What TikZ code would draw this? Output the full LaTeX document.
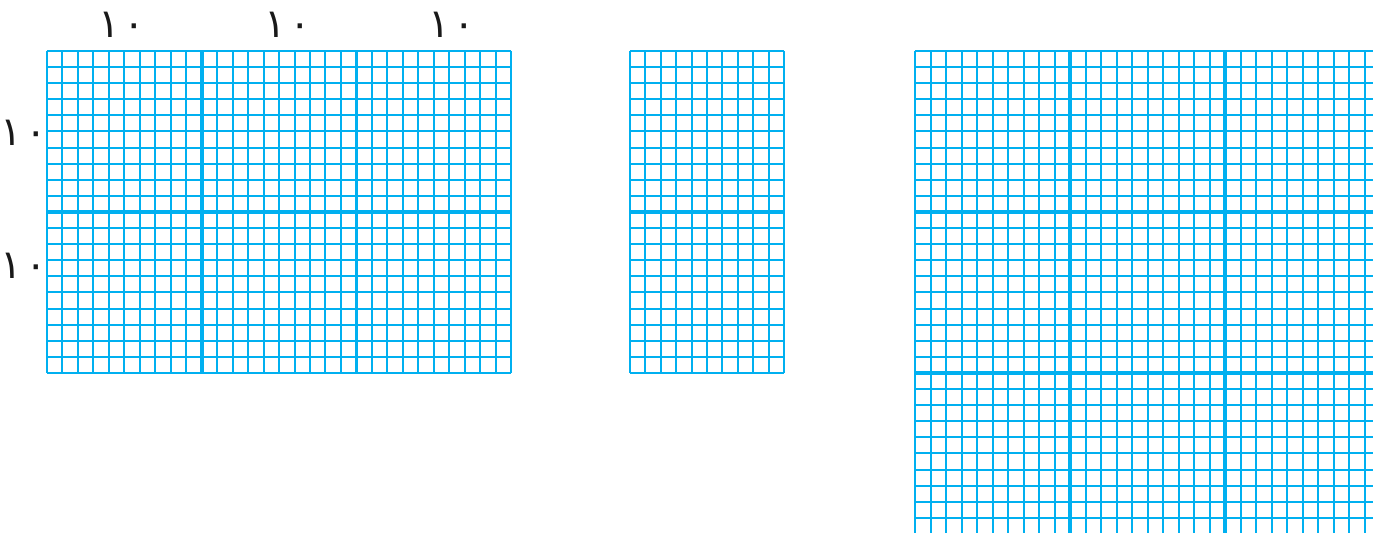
\documentclass[tikz,border=0pt]{standalone}
\usepackage{fontspec}
\newfontfamily\arabicfont[Script=Arabic]{DejaVu Sans}
\definecolor{gridcyan}{RGB}{0,176,240}
\tikzset{
  thingrid/.style={draw=gridcyan, line width=1pt},
  thickgrid/.style={draw=gridcyan, line width=1.8pt},
  numlabel/.style={font=\arabicfont\fontsize{20}{20}\selectfont, text=black!90, inner sep=0pt}
}
\begin{document}
\begin{tikzpicture}[x=0.5pt, y=-0.5pt]
    \useasboundingbox (0,0) rectangle (1373,533);
    \clip (0,0) rectangle (1373,533);
    % left sheet, 30 x 20
    \foreach \i in {0,...,30}
        \draw[thingrid] ({47+15.47*\i},51) -- ++(0,322);
    \foreach \j in {0,...,20}
        \draw[thingrid] (47,{51+16.1*\j}) -- ++(464,0);
    \foreach \i in {10,20}
        \draw[thickgrid] ({47+15.47*\i},51) -- ++(0,322);
    \draw[thickgrid] (47,212) -- ++(464,0);
    % middle sheet, 10 x 20
    \foreach \i in {0,...,10}
        \draw[thingrid] ({630+15.4*\i},51) -- ++(0,322);
    \foreach \j in {0,...,20}
        \draw[thingrid] (630,{51+16.1*\j}) -- ++(154,0);
    \draw[thickgrid] (630,212) -- ++(154,0);
    % right sheet, runs past the edges
    \foreach \i in {0,...,30}
        \draw[thingrid] ({915+15.5*\i},51) -- ++(0,483);
    \foreach \j in {0,...,30}
        \draw[thingrid] (915,{51+16.1*\j}) -- ++(465,0);
    \foreach \i in {10,20}
        \draw[thickgrid] ({915+15.5*\i},51) -- ++(0,483);
    \foreach \j in {10,20}
        \draw[thickgrid] (915,{51+16.1*\j}) -- ++(465,0);
    % labels
    \node[numlabel] (topA) at (122,25) {١\hspace{2pt}٠};
    \node[numlabel] (topB) at (288,25) {١\hspace{2pt}٠};
    \node[numlabel] (topC) at (452,25) {١\hspace{2pt}٠};
    \node[numlabel] (sideA) at (24,133) {١\hspace{2pt}٠};
    \node[numlabel] (sideB) at (24,266) {١\hspace{2pt}٠};
\end{tikzpicture}
\end{document}
